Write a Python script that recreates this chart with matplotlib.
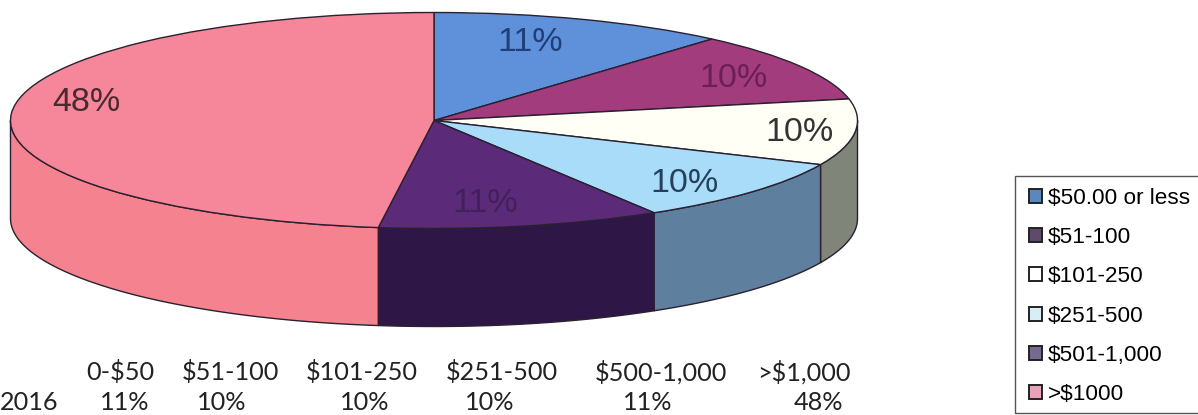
import numpy as np
import matplotlib
matplotlib.use("Agg")
import matplotlib.pyplot as plt
from matplotlib.patches import Patch, Rectangle

# ---------- data ----------
legend_labels = ["$50.00 or less", "$51-100", "$101-250", "$251-500", "$501-1,000", ">$1000"]
values = [11, 10, 10, 10, 11, 48]                 # printed percentages
shares = [11.4, 10.4, 9.9, 9.6, 10.8, 47.9]       # slice sizes
table_headers = ["0-$50", "$51-100", "$101-250", "$251-500", "$500-1,000", ">$1,000"]
table_row_label = "2016"

# ---------- style ----------
W, H = 1198, 415
top_colors = ["#5f91da", "#a33c7c", "#fffff6", "#a9dcf8", "#5b2a78", "#f6869a"]
wall_colors = ["#4a6fa8", "#7a2c5c", "#7f8578", "#5f7f9e", "#2e1746", "#f4838f"]
legend_colors = ["#5a88bc", "#5f4a6c", "#ffffff", "#d8edf5", "#77698f", "#e9a2ba"]
label_colors = ["#1f3f78", "#6a1f58", "#333333", "#24405c", "#43205c", "#4a2a30"]
edge = "#2a2030"

cx, cy, rx, ry, depth = 434, 120.5, 423.5, 108, 98
label_px = [(530, 42), (733, 78), (800, 132), (685, 183), (485, 203), (86, 102)]
header_cx = [120, 230, 362, 502, 661, 804]
value_cx = [125, 222, 365, 490, 648, 818]

def sx(px): return (px - cx) / rx
def sy(py): return (cy - py) / ry

fig = plt.figure(figsize=(W / 100, H / 100), dpi=100, facecolor="white")
ax = fig.add_axes([0, 0, 1, 1])

# top face
ax.pie(shares, colors=top_colors, startangle=90, counterclock=False, radius=1,
       wedgeprops=dict(edgecolor=edge, linewidth=1.0, zorder=3))
ax.set_aspect("auto")
ax.set_xlim(sx(0), sx(W))
ax.set_ylim(sy(H), sy(0))
ax.axis("off")

# side wall, derived from the same shares
d = depth / ry
edges = 90 - np.cumsum([0] + shares) / sum(shares) * 360
for i in range(len(shares)):
    a, b = edges[i], edges[i + 1]
    hi, lo = min(a, 0), max(b, -180)
    if hi <= lo:
        continue
    t = np.radians(np.linspace(hi, lo, 80))
    xs = np.cos(t)
    ys = np.sin(t)
    ax.fill(np.r_[xs, xs[::-1]], np.r_[ys, ys[::-1] - d], facecolor=wall_colors[i],
            edgecolor=edge, linewidth=1.0, zorder=2)

# percentage labels on the pie
for v, (px, py), c in zip(values, label_px, label_colors):
    ax.text(sx(px), sy(py), f"{v}%", ha="center", va="center", fontsize=24.5,
            family="Liberation Sans", color=c, zorder=5)

# table under the chart
for s, px in zip(table_headers, header_cx):
    ax.text(sx(px), sy(372), s, ha="center", va="center", fontsize=18.2,
            family="Lato", color="#222222")
ax.text(sx(0), sy(402), table_row_label, ha="left", va="center", fontsize=18.2,
        family="Lato", color="#222222")
for v, px in zip(values, value_cx):
    ax.text(sx(px), sy(402), f"{v}%", ha="center", va="center", fontsize=18.2,
            family="Lato", color="#222222")

# legend frame (runs off the right edge of the picture) and legend
ax.add_patch(Rectangle((sx(1015), sy(413)), sx(1210) - sx(1015), sy(176) - sy(413),
                       facecolor="white", edgecolor="#555555", linewidth=1.0, zorder=1))
handles = [Patch(facecolor=c, edgecolor="#222222", linewidth=1.4, label=l)
           for c, l in zip(legend_colors, legend_labels)]
leg = ax.legend(handles=handles, loc="upper left",
                bbox_to_anchor=(1015 / W, 1 - 174 / H), bbox_transform=fig.transFigure,
                borderaxespad=0, frameon=False,
                prop=dict(family="Liberation Sans", size=16.2),
                handlelength=0.58, handleheight=0.58, handletextpad=0.25,
                labelspacing=0.81, borderpad=0.62)

fig.savefig("out.png", dpi=100)
